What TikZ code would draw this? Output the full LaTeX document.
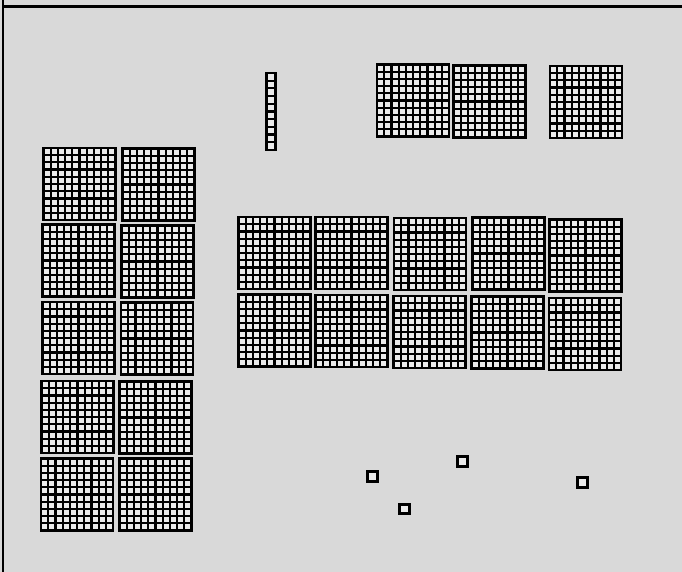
\documentclass[tikz,border=0pt]{standalone}
\definecolor{bgcol}{HTML}{D9D9D9}
\definecolor{cellcol}{HTML}{EBEBEB}
\tikzset{
  gridline/.style={line width=2.2pt, draw=black, line cap=rect},
  frameline/.style={line width=2.2pt, draw=black},
  flat/.pic={
    \fill[cellcol] (1,1) rectangle (73,73);
    \foreach \i in {0,...,10}{
      \draw[gridline] (1+\i*7.2,1) -- (1+\i*7.2,73);
      \draw[gridline] (1,1+\i*7.2) -- (73,1+\i*7.2);
    }
  },
  rod/.pic={
    \fill[cellcol] (0,0) rectangle (9,77);
    \draw[gridline] (0,0) rectangle (9,77);
    \foreach \i in {1,...,9}{
      \draw[gridline] (0,\i*7.7) -- (9,\i*7.7);
    }
  },
  unitcube/.pic={
    \draw[line width=3pt, fill=cellcol] (-4.8,-4.8) rectangle (4.8,4.8);
  }
}
\begin{document}
\begin{tikzpicture}[x=1pt,y=-1pt]
\fill[bgcol] (0,0) rectangle (682,572);
\useasboundingbox (0,0) rectangle (682,572);
\draw[frameline] (3,0) -- (3,572);
\draw[frameline] (3,6.5) -- (682,6.5);
% left column of flats
\pic at (42.5,147) {flat};
\pic at (121.5,147.5) {flat};
\pic at (41.5,223.5) {flat};
\pic at (120.5,224.5) {flat};
\pic at (41.5,301) {flat};
\pic at (120,301.5) {flat};
\pic at (40.5,380) {flat};
\pic at (118.5,380.5) {flat};
\pic at (40,457.5) {flat};
\pic at (118.5,457.5) {flat};
% middle block
\pic at (237.5,216) {flat};
\pic at (314.5,216) {flat};
\pic at (393,217) {flat};
\pic at (471.5,216.5) {flat};
\pic at (548.5,218.5) {flat};
\pic at (237.5,293.5) {flat};
\pic at (314.5,294) {flat};
\pic at (392.5,295) {flat};
\pic at (470.5,295.5) {flat};
\pic at (548,297) {flat};
% top flats
\pic at (376,63.5) {flat};
\pic at (452.5,64.5) {flat};
\pic at (549,65) {flat};
% rod
\pic at (266.5,73) {rod};
% units
\pic at (372.5,476.7) {unitcube};
\pic at (404.5,509) {unitcube};
\pic at (462.5,461.7) {unitcube};
\pic at (582.7,482.7) {unitcube};
\end{tikzpicture}
\end{document}
